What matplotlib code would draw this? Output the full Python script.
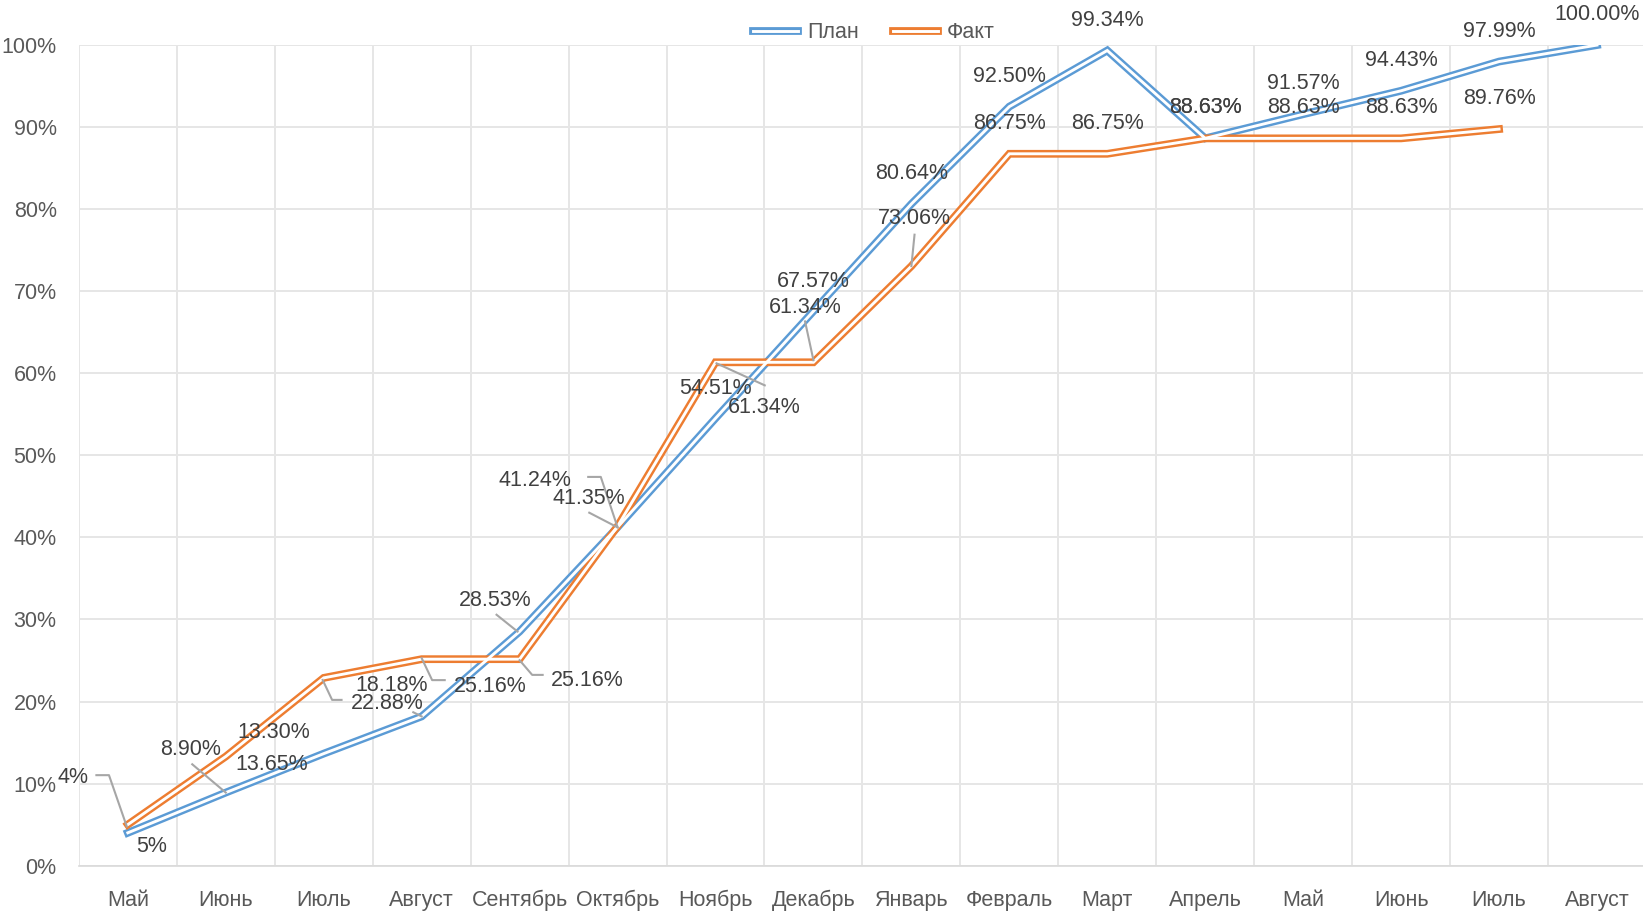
import numpy as np
import matplotlib
matplotlib.use('Agg')
import matplotlib.pyplot as plt
from matplotlib.lines import Line2D

plt.rcParams['font.family'] = ['Liberation Sans', 'DejaVu Sans']

# ---- data ----
months = ['Май', 'Июнь', 'Июль', 'Август', 'Сентябрь', 'Октябрь', 'Ноябрь', 'Декабрь',
          'Январь', 'Февраль', 'Март', 'Апрель', 'Май', 'Июнь', 'Июль', 'Август']
plan = [4.0, 8.90, 13.65, 18.18, 28.53, 41.24, 54.51, 67.57,
        80.64, 92.50, 99.34, 88.63, 91.57, 94.43, 97.99, 100.00]
fact = [5.0, 13.30, 22.88, 25.16, 25.16, 41.35, 61.34, 61.34,
        73.06, 86.75, 86.75, 88.63, 88.63, 88.63, 89.76, np.nan]
plan_text = ['4%', '8.90%', '13.65%', '18.18%', '28.53%', '41.24%', '54.51%', '67.57%',
             '80.64%', '92.50%', '99.34%', '88.63%', '91.57%', '94.43%', '97.99%', '100.00%']
fact_text = ['5%', '13.30%', '22.88%', '25.16%', '25.16%', '41.35%', '61.34%', '61.34%',
             '73.06%', '86.75%', '86.75%', '88.63%', '88.63%', '88.63%', '89.76%', '']

BLUE = '#5B9BD5'
ORANGE = '#ED7D31'
GRID = '#e6e6e6'
AXIS = '#d9d9d9'
LABEL = '#404040'
TICK = '#595959'

# label placement (reference pixels relative to the point), default = above
DEFAULT = (0, -31)
plan_off = {0: (-52, -55), 1: (-34, -43), 2: (-50, 8), 3: (-29, -32), 4: (-23, -32),
            5: (-79, -47), 6: (0, -30), 7: (0, -30)}
fact_off = {0: (23, 19), 1: (46, -25), 2: (61, 22), 3: (65, 24), 4: (65, 18),
            5: (-27, -29), 6: (47, 41), 7: (-8, -54), 8: (3, -47)}
plan_lead = {0: [(-30, -55), (-18, -55), (-1, -6)], 1: [(-32, -27), (0, 0)],
             3: [(-8, -4), (0, 0)], 4: [(-22, -16), (-2, 0)],
             5: [(-28, -48), (-16, -48), (0, 0)]}
fact_lead = {2: [(-1, 2), (8, 21), (17, 21)], 3: [(0, -1), (10, 20), (22, 20)],
             4: [(0, 1), (12, 15), (22, 15)], 5: [(-27, -13), (0, 1)],
             6: [(1, 1), (47, 22)], 7: [(-8, -39), (0, -2)], 8: [(3, -30), (0, 0)]}

PX_X = 93.47  # reference px per category
PX_Y = 7.83   # reference px per percent
TXT_SHIFT = 2  # text baseline nudge, px
FS = 15.5

fig = plt.figure(figsize=(16.43, 9.16), dpi=100)
ax = fig.add_axes([0.048, 0.055, 0.9538, 0.8958])

x = np.arange(len(months))


def double_line(xs, ys, color):
    ax.plot(xs, ys, color=color, lw=5.6, solid_joinstyle='miter', zorder=3)
    ax.plot(xs, ys, color='white', lw=2.1, solid_joinstyle='miter', zorder=4)


double_line(x, plan, BLUE)
double_line(x, fact, ORANGE)


def put_labels(vals, texts, offs, leads):
    for i, (v, t) in enumerate(zip(vals, texts)):
        if not t:
            continue
        dx, dy = offs.get(i, DEFAULT)
        ax.text(i + dx / PX_X, v - (dy + TXT_SHIFT) / PX_Y, t, ha='center', va='center',
                fontsize=FS, color=LABEL, zorder=6)
        if i in leads:
            pts = leads[i]
            lx = [i + p[0] / PX_X for p in pts]
            ly = [v - p[1] / PX_Y for p in pts]
            ax.plot(lx, ly, color='#a6a6a6', lw=1.5, zorder=5)


put_labels(plan, plan_text, plan_off, plan_lead)
put_labels(fact, fact_text, fact_off, fact_lead)

ax.set_xlim(-0.5, len(months) - 0.5)
ax.set_ylim(0, 100)
ax.set_xticks(x)
ax.set_xticklabels(months)
ax.set_xticks(np.arange(-0.5, len(months), 1.0), minor=True)
ax.set_yticks(np.arange(0, 101, 10))
ax.set_yticklabels([f'{v}%' for v in range(0, 101, 10)])
ax.tick_params(axis='both', which='both', length=0, labelsize=FS, colors=TICK)
ax.tick_params(axis='x', pad=17.5)
ax.tick_params(axis='y', pad=16)
ax.grid(True, axis='y', which='major', color=GRID, lw=1.4, zorder=0)
ax.grid(True, axis='x', which='minor', color=GRID, lw=1.4, zorder=0)
for s in ['top', 'right', 'left']:
    ax.spines[s].set_visible(False)
ax.spines['bottom'].set_color(AXIS)
ax.spines['bottom'].set_linewidth(1.2)

handles = []
for c in [BLUE, ORANGE]:
    h1 = Line2D([], [], color=c, lw=5.6)
    h2 = Line2D([], [], color='white', lw=2.1)
    handles.append((h1, h2))
fig.legend(handles, ['План', 'Факт'], loc='center', bbox_to_anchor=(0.532, 0.964),
           ncol=2, frameon=False, fontsize=FS, labelcolor=TICK,
           handlelength=2.1, handletextpad=0.4, columnspacing=1.6)

fig.savefig('out.png', dpi=100)
